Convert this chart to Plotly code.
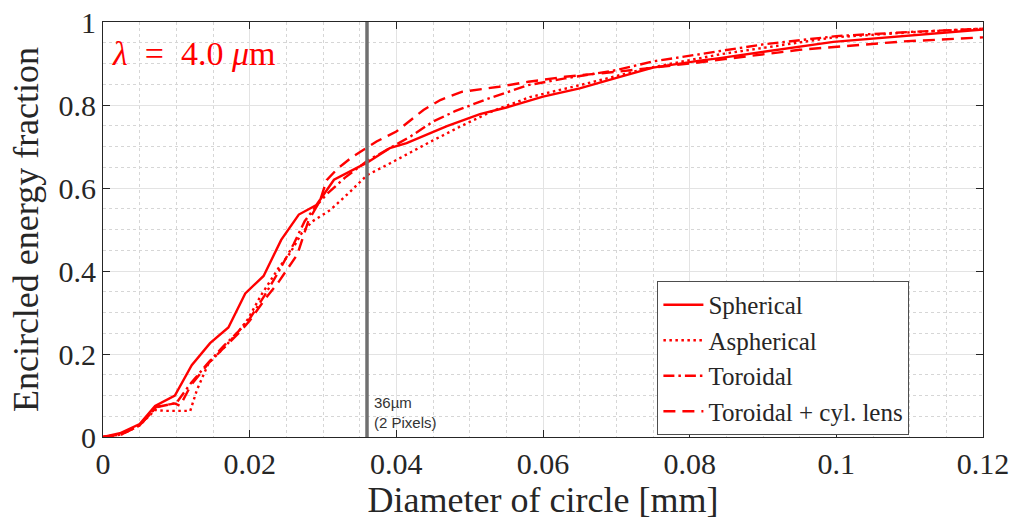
import plotly.graph_objects as go

# Encircled energy curves at lambda = 4.0 um for four optical designs
sph_x = [0, 0.0023, 0.005, 0.0071, 0.0098, 0.0121, 0.0146, 0.0171, 0.0194, 0.0219,
         0.0243, 0.0267, 0.0291, 0.0315, 0.036, 0.0391, 0.0414, 0.0469, 0.0514, 0.055,
         0.060, 0.065, 0.0705, 0.075, 0.0814, 0.0841, 0.0996, 0.11, 0.12]
sph_y = [0, 0.009, 0.031, 0.075, 0.10, 0.173, 0.226, 0.264, 0.346, 0.388,
         0.475, 0.536, 0.559, 0.62, 0.661, 0.696, 0.708, 0.749, 0.778, 0.794,
         0.82, 0.84, 0.868, 0.89, 0.907, 0.913, 0.952, 0.968, 0.982]

asph_x = [0, 0.0025, 0.005, 0.0071, 0.0085, 0.0119, 0.0128, 0.0144, 0.0165, 0.0185,
          0.0198, 0.0215, 0.0239, 0.0255, 0.0271, 0.0285, 0.031, 0.0337, 0.036, 0.0391,
          0.0446, 0.0487, 0.0532, 0.0582, 0.066, 0.0741, 0.0841, 0.0996, 0.11, 0.12]
asph_y = [0, 0.006, 0.028, 0.065, 0.063, 0.063, 0.113, 0.178, 0.215, 0.255,
          0.285, 0.34, 0.406, 0.443, 0.491, 0.519, 0.547, 0.591, 0.631, 0.659,
          0.711, 0.748, 0.786, 0.819, 0.852, 0.888, 0.922, 0.963, 0.975, 0.984]

tor_x = [0, 0.0025, 0.005, 0.0073, 0.01, 0.012, 0.0144, 0.0165, 0.0185, 0.02,
         0.022, 0.024, 0.026, 0.0275, 0.029, 0.0305, 0.033, 0.036, 0.039, 0.042,
         0.045, 0.048, 0.052, 0.058, 0.063, 0.07, 0.075, 0.084, 0.09, 0.1, 0.11, 0.12]
tor_y = [0, 0.006, 0.028, 0.072, 0.082, 0.13, 0.18, 0.22, 0.255, 0.285,
         0.34, 0.40, 0.465, 0.52, 0.555, 0.585, 0.625, 0.665, 0.695, 0.725,
         0.76, 0.785, 0.812, 0.848, 0.864, 0.884, 0.905, 0.929, 0.946, 0.966, 0.976, 0.984]

cyl_x = [0, 0.0025, 0.005, 0.0073, 0.0098, 0.0105, 0.012, 0.0145, 0.0165, 0.0185,
         0.02, 0.022, 0.024, 0.0265, 0.028, 0.0296, 0.0305, 0.032, 0.034, 0.0373,
         0.04, 0.0437, 0.046, 0.049, 0.054, 0.058, 0.063, 0.07, 0.08, 0.095, 0.109, 0.12]
cyl_y = [0, 0.006, 0.028, 0.073, 0.081, 0.075, 0.125, 0.18, 0.215, 0.25,
         0.28, 0.33, 0.375, 0.44, 0.52, 0.57, 0.619, 0.647, 0.675, 0.712,
         0.736, 0.788, 0.812, 0.832, 0.844, 0.856, 0.868, 0.88, 0.90, 0.933, 0.953, 0.963]

series = [
    ("Spherical", sph_x, sph_y, "solid"),
    ("Aspherical", asph_x, asph_y, "2.5px,3.5px"),
    ("Toroidal", tor_x, tor_y, "11px,4px,2.5px,4px"),
    ("Toroidal + cyl. lens", cyl_x, cyl_y, "12px,7px"),
]

pixel_limit = 0.036  # 2 detector pixels
x_ticks = [0, 0.02, 0.04, 0.06, 0.08, 0.1, 0.12]
x_tick_text = ["0", "0.02", "0.04", "0.06", "0.08", "0.1", "0.12"]
y_ticks = [0, 0.2, 0.4, 0.6, 0.8, 1]
y_tick_text = ["0", "0.2", "0.4", "0.6", "0.8", "1"]

RED = "#ff0000"
INK = "#262626"
SERIF = "Liberation Serif, DejaVu Serif, serif"

fig = go.Figure()
for name, xs, ys, dash in series:
    fig.add_trace(go.Scatter(x=xs, y=ys, mode="lines", name=name,
                             line=dict(color=RED, width=2.4, dash=dash)))

fig.add_shape(type="line", x0=pixel_limit, x1=pixel_limit, y0=0, y1=1,
              xref="x", yref="y", line=dict(color="#707070", width=3.5))
fig.add_annotation(x=pixel_limit, y=0.01, xref="x", yref="y",
                   text="36µm<br>(2 Pixels)", showarrow=False, align="left",
                   xanchor="left", yanchor="bottom", xshift=5,
                   font=dict(family="Liberation Sans, Arial, sans-serif", size=15, color="#333333"))
fig.add_annotation(x=0.001, y=0.925, xref="x", yref="y",
                   text="<i>λ</i>&nbsp;&nbsp;=&nbsp;&nbsp;4.0&nbsp;<i>μ</i>m", showarrow=False,
                   xanchor="left", yanchor="middle",
                   font=dict(family=SERIF, size=34, color=RED))

axis_common = dict(
    showline=True, linecolor=INK, linewidth=1.2, mirror="ticks",
    ticks="inside", ticklen=7, tickcolor=INK, tickwidth=1,
    showgrid=True, gridcolor="#e3e3e3", gridwidth=1, zeroline=False,
    automargin=False,
    tickfont=dict(family=SERIF, size=30, color=INK),
)

fig.update_xaxes(range=[0, 0.12], tickvals=x_ticks, ticktext=x_tick_text,
                 title=dict(text="Diameter of circle [mm]", standoff=4,
                            font=dict(family=SERIF, size=36, color=INK)),
                 minor=dict(dtick=0.005, showgrid=True, griddash="dot",
                            gridcolor="#d6d6d6", ticks=""),
                 **axis_common)
fig.update_yaxes(range=[0, 1], tickvals=y_ticks, ticktext=y_tick_text,
                 title=dict(text="Encircled energy fraction", standoff=8,
                            font=dict(family=SERIF, size=36, color=INK)),
                 minor=dict(dtick=0.05, showgrid=True, griddash="dot",
                            gridcolor="#d6d6d6", ticks=""),
                 **axis_common)

fig.update_layout(
    width=1015, height=525,
    margin=dict(l=103, r=32, t=22, b=88),
    plot_bgcolor="white", paper_bgcolor="white",
    legend=dict(x=0.63, y=0.376, xanchor="left", yanchor="top",
                bgcolor="white", bordercolor="#4d4d4d", borderwidth=1,
                font=dict(family=SERIF, size=25, color=INK),
                tracegroupgap=0, itemwidth=40),
)

fig.write_html("out.html")
